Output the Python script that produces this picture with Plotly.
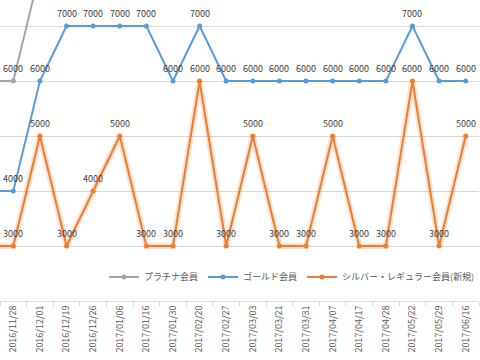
import plotly.graph_objects as go

# Category labels (the first data value in each series belongs to a preceding, cropped-off date)
dates = ["2016/11/28", "2016/12/01", "2016/12/19", "2016/12/26", "2017/01/06", "2017/01/16",
         "2017/01/30", "2017/02/20", "2017/02/27", "2017/03/03", "2017/03/21", "2017/03/31",
         "2017/04/07", "2017/04/17", "2017/04/28", "2017/05/22", "2017/05/29", "2017/06/16"]

# values: [preceding date (cropped), then one per date above]
platinum = [6000, 6000, 8000] + [None] * 16
gold = [4000, 4000, 6000, 7000, 7000, 7000, 7000, 6000, 7000, 6000, 6000, 6000, 6000, 6000,
        6000, 6000, 7000, 6000, 6000]
silver = [3000, 3000, 5000, 3000, 4000, 5000, 3000, 3000, 6000, 3000, 5000, 3000, 3000, 5000,
          3000, 3000, 6000, 3000, 5000]

series_names = ["プラチナ会員", "ゴールド会員", "シルバー・レギュラー会員(新規)"]
colors = ["#a5a5a5", "#5b9bd5", "#ed7d31"]

xs = list(range(-1, len(dates)))
FONT = "Noto Sans CJK JP"

fig = go.Figure()

# soft glow under the orange line
fig.add_trace(go.Scatter(x=xs, y=silver, mode="lines",
                         line=dict(color="rgba(237,125,49,0.22)", width=6),
                         showlegend=False, hoverinfo="skip"))

for name, vals, col in zip(series_names, [platinum, gold, silver], colors):
    fig.add_trace(go.Scatter(x=xs, y=vals, mode="lines+markers", name=name,
                             line=dict(color=col, width=2),
                             marker=dict(color=col, size=5),
                             connectgaps=False))

annotations = []
for vals in [platinum, gold, silver]:
    for x, v in zip(xs, vals):
        if v is None or x < 0:
            continue
        annotations.append(dict(x=x, y=v, text=str(v), showarrow=False, yshift=13,
                                font=dict(family=FONT, size=9, color="#404040")))

fig.update_layout(
    width=480, height=360,
    margin=dict(l=0, r=0, t=0, b=59),
    paper_bgcolor="white", plot_bgcolor="white",
    font=dict(family=FONT, color="#595959"),
    annotations=annotations,
    showlegend=True,
    legend=dict(orientation="h", x=0.61, xanchor="center", y=0.08, yanchor="middle",
                font=dict(family=FONT, size=9, color="#595959"),
                bgcolor="rgba(255,255,255,0)"),
    xaxis=dict(range=[-0.5, len(dates) - 0.5], tickmode="array",
               tickvals=list(range(len(dates))), ticktext=dates,
               tickangle=-90, ticks="", showgrid=False, zeroline=False,
               showline=True, linecolor="#d9d9d9", linewidth=1,
               tickfont=dict(family=FONT, size=9, color="#595959"),
               automargin=False,
               minor=dict(tickmode="array",
                          tickvals=[i - 0.5 for i in range(len(dates) + 1)],
                          ticks="outside", ticklen=4, tickcolor="#d9d9d9", showgrid=False)),
    yaxis=dict(range=[2000, 7474], dtick=1000, tick0=0, showticklabels=False,
               showgrid=True, gridcolor="#d9d9d9", gridwidth=1, zeroline=False,
               showline=False, automargin=False),
)

fig.write_html("out.html", config={"displayModeBar": False},
               post_script="document.body.style.margin='0';document.body.style.overflow='hidden';")
